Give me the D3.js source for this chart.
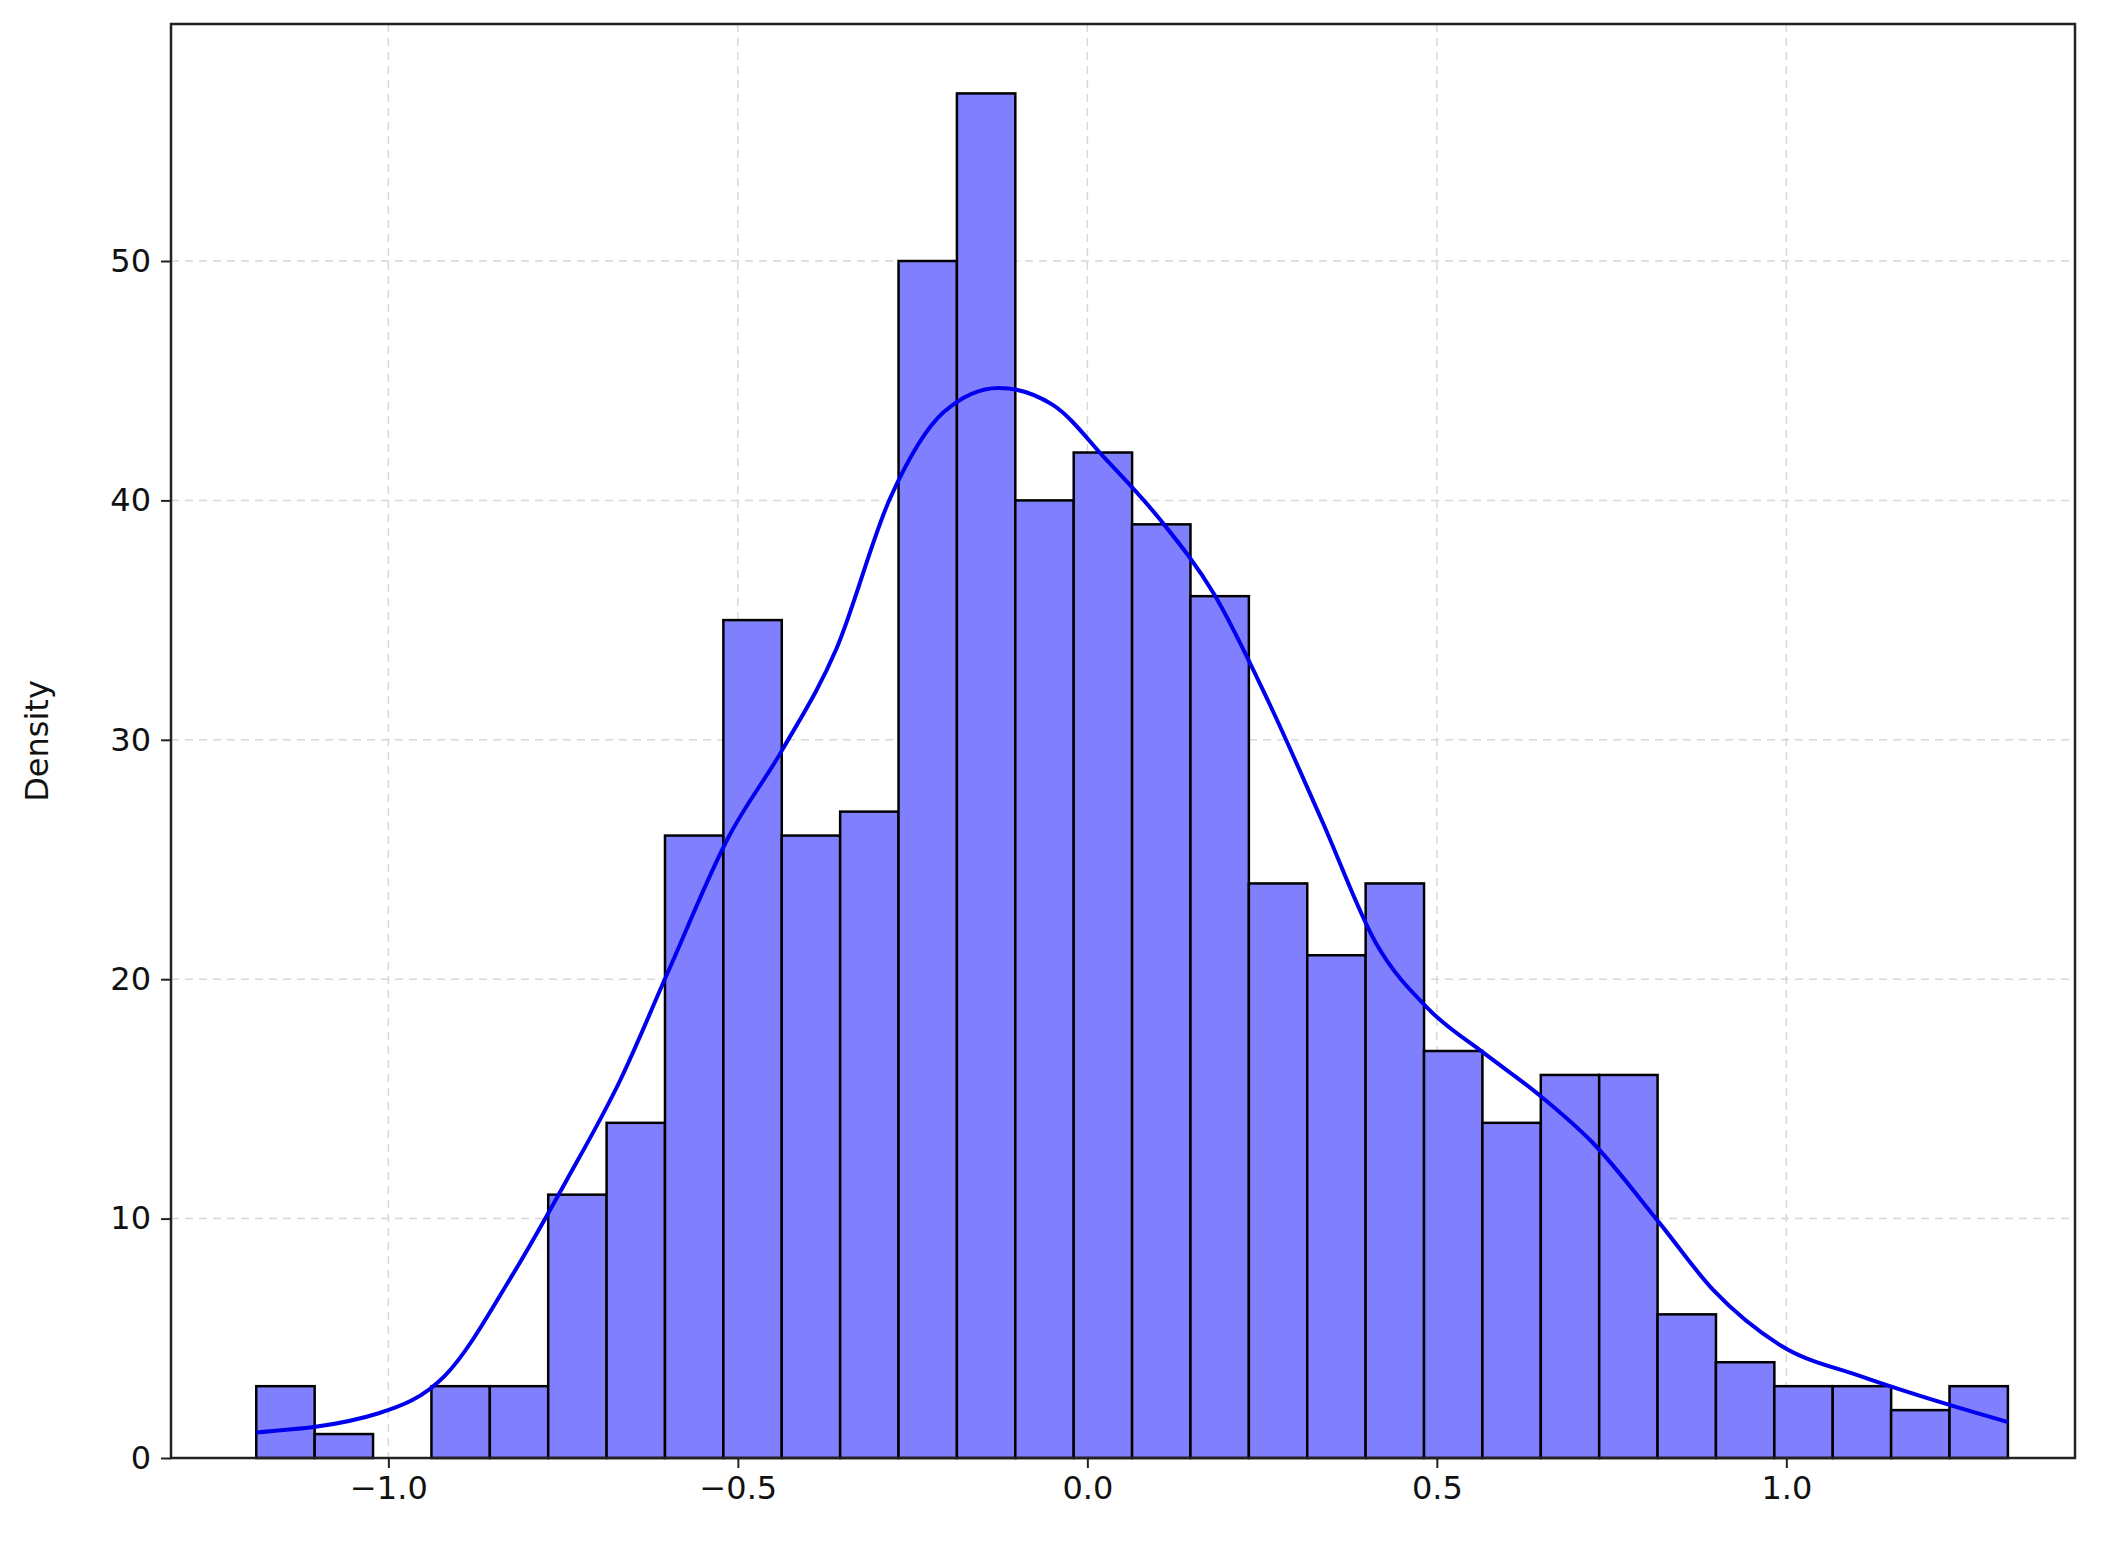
<!DOCTYPE html>
<html>
<head>
<meta charset="utf-8">
<script src="https://cdn.jsdelivr.net/npm/d3@7"></script>
<style>
  body { margin: 0; background: #fff; }
  text { font-family: "DejaVu Sans", sans-serif; }
</style>
</head>
<body>
<svg id="chart" width="2115" height="1547"></svg>
<script>
// histogram counts, 30 equal bins
const binStart = -1.189;
const binEnd = 1.317;
const counts = [3, 1, 0, 3, 3, 11, 14, 26, 35, 26, 27, 50, 57, 40, 42, 39, 36, 24, 21, 24, 17, 14, 16, 16, 6, 4, 3, 3, 2, 3];

// KDE curve
const kdeX = [-1.189, -1.015, -0.919, -0.822, -0.745, -0.668, -0.600, -0.514, -0.436, -0.359, -0.282, -0.205, -0.127, -0.050, 0.027, 0.104, 0.181, 0.259, 0.336, 0.413, 0.490, 0.568, 0.645, 0.722, 0.819, 0.896, 0.992, 1.108, 1.224, 1.317];
const kdeY = [1.07, 1.86, 3.44, 7.67, 11.6, 15.8, 20.3, 25.9, 29.6, 33.8, 40.1, 43.7, 44.7, 44.0, 41.7, 39.2, 36.1, 31.6, 26.6, 21.5, 18.7, 16.9, 15.2, 13.2, 9.8, 7.0, 4.7, 3.4, 2.3, 1.5];

const xTicks = [-1.0, -0.5, 0.0, 0.5, 1.0];
const yTicks = [0, 10, 20, 30, 40, 50];

const margin = { left: 171, right: 40, top: 24, bottom: 89 };
const width = 2115, height = 1547;

const svg = d3.select('#chart');
const x = d3.scaleLinear().domain([-1.311, 1.413]).range([margin.left, width - margin.right]);
const y = d3.scaleLinear().domain([0, 59.9]).range([height - margin.bottom, margin.top]);

// grid
const grid = svg.append('g');
grid.selectAll('.gx').data(xTicks).enter().append('line')
  .attr('x1', d => x(d)).attr('x2', d => x(d))
  .attr('y1', y.range()[1]).attr('y2', y.range()[0])
  .attr('stroke', '#d8d8d8').attr('stroke-width', 1.5).attr('stroke-dasharray', '8,6');
grid.selectAll('.gy').data(yTicks).enter().append('line')
  .attr('y1', d => y(d)).attr('y2', d => y(d))
  .attr('x1', x.range()[0]).attr('x2', x.range()[1])
  .attr('stroke', '#d8d8d8').attr('stroke-width', 1.5).attr('stroke-dasharray', '8,6');

// bars
const bw = (binEnd - binStart) / counts.length;
svg.append('g').selectAll('rect').data(counts).enter()
  .filter(d => d > 0)
  .append('rect')
  .attr('x', (d, i) => x(binStart + counts.indexOf(d) * 0))
  .each(function (d) {});
svg.selectAll('g > rect').remove();
const bars = svg.append('g');
counts.forEach((c, i) => {
  if (c === 0) return;
  bars.append('rect')
    .attr('x', x(binStart + i * bw))
    .attr('width', x(binStart + (i + 1) * bw) - x(binStart + i * bw))
    .attr('y', y(c))
    .attr('height', y(0) - y(c))
    .attr('fill', '#8080ff')
    .attr('stroke', '#000')
    .attr('stroke-width', 2.5);
});

// kde line
const pts = kdeX.map((v, i) => [v, kdeY[i]]);
svg.append('path')
  .datum(pts)
  .attr('fill', 'none')
  .attr('stroke', '#0000ee')
  .attr('stroke-width', 4)
  .attr('d', d3.line().x(d => x(d[0])).y(d => y(d[1])).curve(d3.curveMonotoneX));

// frame
svg.append('rect')
  .attr('x', x.range()[0]).attr('y', y.range()[1])
  .attr('width', x.range()[1] - x.range()[0])
  .attr('height', y.range()[0] - y.range()[1])
  .attr('fill', 'none').attr('stroke', '#222').attr('stroke-width', 2.5);

// axes
const xAxis = svg.append('g')
  .attr('transform', `translate(0,${y.range()[0]})`)
  .call(d3.axisBottom(x).tickValues(xTicks).tickFormat(d => d3.format('.1f')(d).replace('-', '\u2212')).tickSize(10).tickPadding(8));
const yAxis = svg.append('g')
  .attr('transform', `translate(${x.range()[0]},0)`)
  .call(d3.axisLeft(y).tickValues(yTicks).tickSize(10).tickPadding(10));
[xAxis, yAxis].forEach(a => {
  a.select('.domain').remove();
  a.selectAll('.tick line').attr('stroke', '#222').attr('stroke-width', 2);
  a.selectAll('.tick text').attr('font-size', 32).attr('fill', '#111');
});

svg.append('text')
  .attr('transform', `translate(48,${(y.range()[0] + y.range()[1]) / 2}) rotate(-90)`)
  .attr('text-anchor', 'middle')
  .attr('font-size', 32).attr('fill', '#111')
  .text('Density');
</script>
</body>
</html>
